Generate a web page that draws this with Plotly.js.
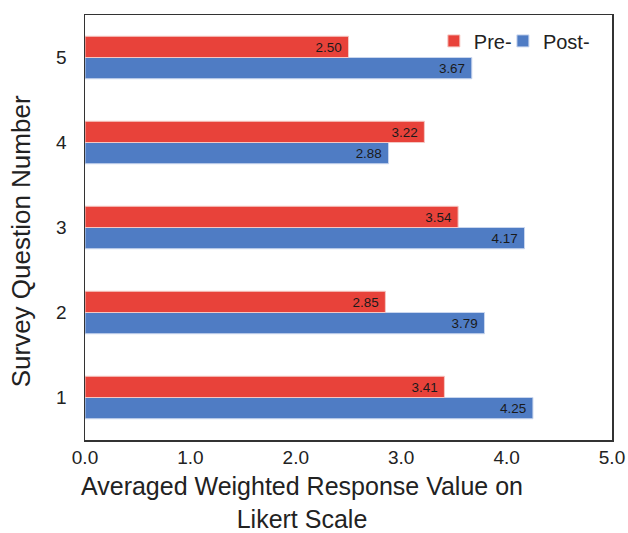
<!DOCTYPE html>
<html>
<head>
<meta charset="utf-8">
<script src="https://cdn.plot.ly/plotly-3.0.1.min.js"></script>
<style>html,body{margin:0;padding:0;background:#fff;}#chart{width:628px;height:533px;}</style>
</head>
<body>
<div id="chart"></div>
<script>
const questions = ["1", "2", "3", "4", "5"];
const preValues = [3.41, 2.85, 3.54, 3.22, 2.50];
const postValues = [4.25, 3.79, 4.17, 2.88, 3.67];
const xTickVals = [0, 1, 2, 3, 4, 5];
const xTickText = ["0.0", "1.0", "2.0", "3.0", "4.0", "5.0"];
const xTitle = "Averaged Weighted Response Value on<br>Likert Scale";
const yTitle = "Survey Question Number";

const fontFam = "Liberation Sans, Arial, sans-serif";
const post = {
  type: "bar", orientation: "h", name: "Post-", legend: "legend2",
  y: questions, x: postValues,
  texttemplate: "%{x:.2f}&nbsp;",
  textposition: "inside", insidetextanchor: "end",
  textfont: {family: fontFam, size: 15, color: "#1a1a1a"},
  marker: {color: "#4f7cc4", line: {color: "#c9d6ee", width: 1}},
  cliponaxis: false
};
const pre = {
  type: "bar", orientation: "h", name: "Pre-", legend: "legend",
  y: questions, x: preValues,
  texttemplate: "%{x:.2f}&nbsp;",
  textposition: "inside", insidetextanchor: "end",
  textfont: {family: fontFam, size: 15, color: "#1a1a1a"},
  marker: {color: "#e8423a", line: {color: "#f5c7c3", width: 1}},
  cliponaxis: false
};
const legendBase = {orientation: "h", xanchor: "left", y: 0.985, yanchor: "top",
  font: {size: 20, family: fontFam, color: "#222"},
  bgcolor: "rgba(0,0,0,0)", itemwidth: 30};
const layout = {
  width: 628, height: 533,
  margin: {l: 85, r: 16, t: 15, b: 93, autoexpand: false},
  barmode: "group", bargap: 0.5, bargroupgap: 0,
  paper_bgcolor: "#fff", plot_bgcolor: "#fff",
  font: {family: fontFam, color: "#222"},
  showlegend: true,
  legend: Object.assign({}, legendBase, {x: 0.662}),
  legend2: Object.assign({}, legendBase, {x: 0.793}),
  xaxis: {range: [0, 5], tickvals: xTickVals, ticktext: xTickText,
          showgrid: false, zeroline: false, showline: true, mirror: true,
          linecolor: "#333", linewidth: 1.5, ticks: "",
          tickfont: {size: 19, family: fontFam, color: "#222"}},
  yaxis: {showgrid: false, zeroline: false, showline: true, mirror: true,
          linecolor: "#333", linewidth: 1.5, ticks: "",
          tickfont: {size: 19, family: fontFam, color: "#222"}, ticklabelstandoff: 13},
  annotations: [
    {text: xTitle, xref: "paper", yref: "paper", x: 0.4118, y: -0.147,
     xanchor: "center", yanchor: "middle", showarrow: false,
     font: {size: 25, family: fontFam, color: "#222"}},
    {text: yTitle, xref: "paper", yref: "paper", x: -0.121, y: 0.468,
     xanchor: "center", yanchor: "middle", showarrow: false, textangle: -90,
     font: {size: 26, family: fontFam, color: "#222"}}
  ]
};
Plotly.newPlot("chart", [post, pre], layout, {displayModeBar: false, staticPlot: true});
</script>
</body>
</html>
